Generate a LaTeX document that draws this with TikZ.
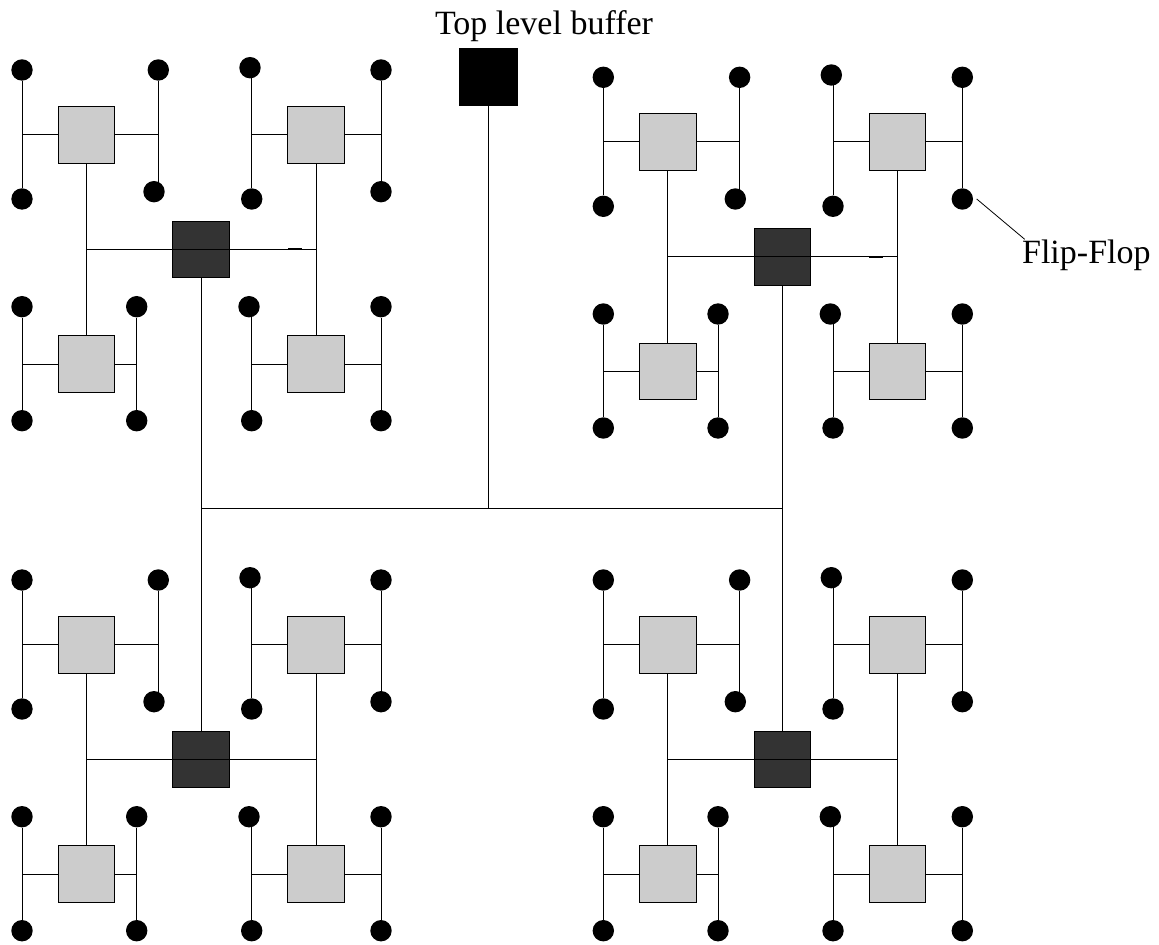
\documentclass[tikz,border=0pt]{standalone}
\usepackage{fontspec}
\setmainfont{Liberation Serif}
\usetikzlibrary{calc}
\definecolor{leafgray}{RGB}{204,204,204}
\definecolor{midgray}{RGB}{51,51,51}
\tikzset{
  wire/.style={draw=black, line width=0.5pt},
  dashmark/.style={draw=black, line width=1pt},
  leafbuf/.style={rectangle, draw=black, line width=0.5pt, fill=leafgray, minimum size=28.4pt, inner sep=0pt},
  midbuf/.style={rectangle, draw=black, line width=0.5pt, fill=midgray, minimum size=28.4pt, inner sep=0pt},
  topbuf/.style={rectangle, draw=black, fill=black, line width=0.5pt, minimum width=28.7pt, minimum height=28.4pt, inner sep=0pt},
  ff/.style={circle, fill=black, minimum size=10.7pt, inner sep=0pt},
  lbl/.style={font=\fontsize{17}{20}\selectfont, inner sep=0pt},
}
\newcommand{\htreequad}[3]{%
\begin{scope}[shift={(#2,#3)}]
 % leaf buffers and middle buffer
 \node[leafbuf] (#1g1) at (86.5,134.7) {};
 \node[leafbuf] (#1g2) at (316.2,134.7) {};
 \node[leafbuf] (#1g3) at (86.5,364.2) {};
 \node[leafbuf] (#1g4) at (316.2,364.2) {};
 \node[midbuf] (#1b) at (201.2,249.5) {};
 % flip-flops
 \node[ff] (#1a1) at (22,70) {};
 \node[ff] (#1a2) at (158.3,70) {};
 \node[ff] (#1a3) at (22,199) {};
 \node[ff] (#1a4) at (154,191.7) {};
 \node[ff] (#1c1) at (250,67.7) {};
 \node[ff] (#1c2) at (381,70) {};
 \node[ff] (#1c3) at (251.7,199) {};
 \node[ff] (#1c4) at (381,191.7) {};
 \node[ff] (#1e1) at (22,306.7) {};
 \node[ff] (#1e2) at (136.7,306.7) {};
 \node[ff] (#1e3) at (22,420.7) {};
 \node[ff] (#1e4) at (136.7,420.7) {};
 \node[ff] (#1f1) at (249,306.7) {};
 \node[ff] (#1f2) at (381,306.7) {};
 \node[ff] (#1f3) at (251.7,420.7) {};
 \node[ff] (#1f4) at (381,420.7) {};
 % legs
 \draw[wire] (#1a1) -- (#1a3);
 \draw[wire] (#1a2) -- (#1a2 |- #1a4);
 \draw[wire] (#1c3 |- #1c1) -- (#1c3);
 \draw[wire] (#1c2) -- (#1c4);
 \draw[wire] (#1e1) -- (#1e3);
 \draw[wire] (#1e2) -- (#1e4);
 \draw[wire] (#1f3 |- #1f1) -- (#1f3);
 \draw[wire] (#1f2) -- (#1f4);
 % leaf H bars
 \draw[wire] (#1a1 |- #1g1) -- (#1g1.west);
 \draw[wire] (#1g1.east) -- (#1a2 |- #1g1);
 \draw[wire] (#1c3 |- #1g2) -- (#1g2.west);
 \draw[wire] (#1g2.east) -- (#1c2 |- #1g2);
 \draw[wire] (#1e1 |- #1g3) -- (#1g3.west);
 \draw[wire] (#1g3.east) -- (#1e2 |- #1g3);
 \draw[wire] (#1f3 |- #1g4) -- (#1g4.west);
 \draw[wire] (#1g4.east) -- (#1f2 |- #1g4);
 % middle H
 \draw[wire] (#1g1 |- #1b) -- (#1g2 |- #1b);
 \draw[wire] (#1g1.south) -- (#1g3.north);
 \draw[wire] (#1g2.south) -- (#1g4.north);
\end{scope}}
\begin{document}
\begin{tikzpicture}[x=0.5pt,y=-0.5pt]
\useasboundingbox (0,0) rectangle (1159,945);
\node[topbuf] (top) at (488.5,77.2) {};
\node[lbl, anchor=base] (title) at (544,34.3) {Top level buffer};
\htreequad{TL}{0}{0}
\htreequad{TR}{581.3}{7.3}
\htreequad{BL}{0}{510}
\htreequad{BR}{581.3}{510}
\draw[dashmark] ($(TLb)+(86.8,0)$) -- ($(TLb)+(100.8,0)$);
\draw[dashmark] ($(TRb)+(86.8,0)$) -- ($(TRb)+(100.8,0)$);
% trunk
\coordinate (trunk) at (488.5,508);
\draw[wire] (top.south) -- (trunk);
\draw[wire] (TLb.south) -- (TLb |- trunk) -- (TRb |- trunk) -- (TRb.south);
\draw[wire] (BLb.north) -- (BLb |- trunk);
\draw[wire] (BRb.north) -- (BRb |- trunk);
% label
\node[lbl, anchor=base west] (fflbl) at (1021.7,263.3) {Flip-Flop};
\draw[draw=black, line width=0.4pt] ($(TRc4)+(14.4,0)$) -- ($(fflbl.north west)+(3,0)$);
\end{tikzpicture}
\end{document}
